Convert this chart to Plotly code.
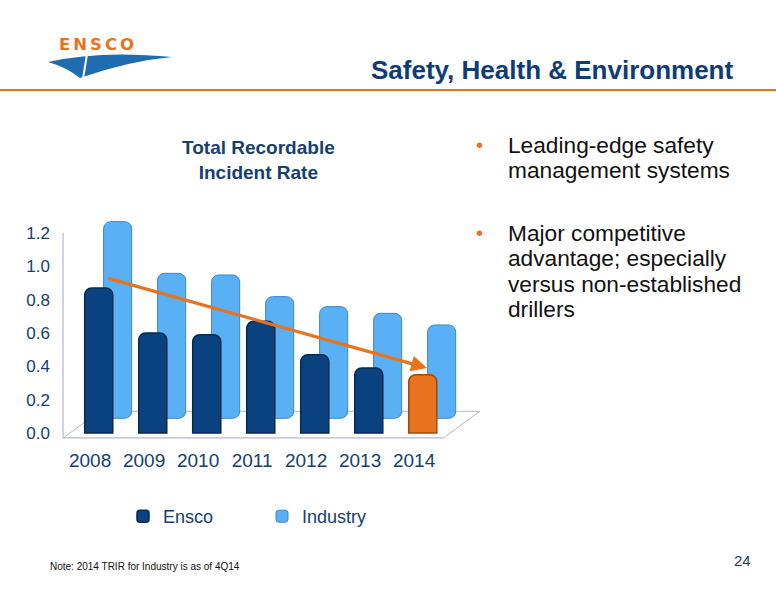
import plotly.graph_objects as go

years = ["2008", "2009", "2010", "2011", "2012", "2013", "2014"]
ensco = [0.87, 0.60, 0.59, 0.67, 0.47, 0.39, 0.35]
industry = [1.18, 0.87, 0.86, 0.73, 0.67, 0.63, 0.56]
y_ticks = [0.0, 0.2, 0.4, 0.6, 0.8, 1.0, 1.2]

W, H = 776, 600
NAVY = "#14406F"
ORANGE = "#E8731E"

def px(x, y):
    return x / W, 1 - y / H

xpos = list(range(len(years)))
ensco_colors = ["#0A427F"] * (len(years) - 1) + [ORANGE]
ensco_lines = ["#052A50"] * (len(years) - 1) + ["#9E4A0E"]

fig = go.Figure()
fig.add_trace(go.Bar(
    x=xpos, y=industry, name="Industry", base=0.088,
    offset=0.27, width=0.52,
    marker=dict(color="#5AB0F4", line=dict(color="#3A88C8", width=1), cornerradius=7),
))
fig.add_trace(go.Bar(
    x=xpos, y=ensco, name="Ensco",
    offset=-0.08, width=0.52,
    marker=dict(color=ensco_colors, line=dict(color=ensco_lines, width=1.5), cornerradius=7),
))

shapes = []
floor_col = "#B4BACB"
shapes += [
    dict(type="line", xref="x", yref="y", x0=-0.48, y0=-0.03, x1=6.56, y1=-0.03, line=dict(color=floor_col, width=1.2), layer="below"),
    dict(type="line", xref="x", yref="y", x0=0.2, y0=0.13, x1=7.24, y1=0.13, line=dict(color=floor_col, width=1), layer="below"),
    dict(type="line", xref="x", yref="y", x0=-0.48, y0=-0.03, x1=0.2, y1=0.13, line=dict(color=floor_col, width=1), layer="below"),
    dict(type="line", xref="x", yref="y", x0=6.56, y0=-0.03, x1=7.24, y1=0.13, line=dict(color=floor_col, width=1), layer="below"),
    dict(type="line", xref="x", yref="y", x0=-0.48, y0=-0.03, x1=-0.48, y1=1.2, line=dict(color=floor_col, width=1.2), layer="below"),
]
a = px(0, 90); b = px(776, 90)
shapes.append(dict(type="line", xref="paper", yref="paper", x0=a[0], y0=a[1], x1=b[0], y1=b[1], line=dict(color=ORANGE, width=2)))
# logo swoosh
pts = [(48, 62), (100, 50), (172, 57), (128, 61), (80, 78), (66, 67), (48, 62)]
c = [px(*p) for p in pts]
path = (f"M {c[0][0]},{c[0][1]} Q {c[1][0]},{c[1][1]} {c[2][0]},{c[2][1]} "
        f"Q {c[3][0]},{c[3][1]} {c[4][0]},{c[4][1]} Q {c[5][0]},{c[5][1]} {c[6][0]},{c[6][1]} Z")
shapes.append(dict(type="path", xref="paper", yref="paper", path=path, fillcolor="#1F6DB0", line=dict(width=0)))
s0 = px(87, 54); s1 = px(83, 79)
shapes.append(dict(type="line", xref="paper", yref="paper", x0=s0[0], y0=s0[1], x1=s1[0], y1=s1[1], line=dict(color="white", width=2)))

def ann(text, x, y, size, color, xanchor="left", bold=False, family="Liberation Sans, Arial, sans-serif", align="left", yanchor="middle"):
    xp, yp = px(x, y)
    return dict(text=f"<b>{text}</b>" if bold else text, x=xp, y=yp, xref="paper", yref="paper",
                showarrow=False, xanchor=xanchor, yanchor=yanchor, align=align,
                font=dict(size=size, color=color, family=family))

bullet1 = ["Leading-edge safety", "management systems"]
bullet2 = ["Major competitive", "advantage; especially", "versus non-established", "drillers"]

annotations = [
    ann("Safety, Health &amp; Environment", 735, 70, 26, "#0D3D78", xanchor="right", bold=True,
        family="Liberation Sans Narrow, Arial Narrow, Liberation Sans, sans-serif"),
    ann('<span style="letter-spacing:3px">ENSCO</span>', 57, 45, 16.5, ORANGE, xanchor="left", bold=True,
        family="DejaVu Sans, Verdana, sans-serif"),
    ann("Total Recordable<br>Incident Rate", 258, 160, 19, "#17406E", xanchor="center", bold=True, align="center"),
    ann("•", 474, 145, 20, ORANGE),
    ann("•", 474, 233, 20, ORANGE),
    ann("Note: 2014 TRIR for Industry is as of 4Q14", 48, 566, 10, "#111111"),
    ann("24", 742, 560, 15, "#14406F", xanchor="center"),
    dict(x=6.26, y=0.39, ax=0.33, ay=0.93, xref="x", yref="y", axref="x", ayref="y",
         showarrow=True, arrowhead=2, arrowsize=1, arrowwidth=3.2, arrowcolor="#E8731E", text=""),
]
for i, line in enumerate(bullet1):
    annotations.append(ann(line, 506, 145 + 25 * i, 22.7, "#111111"))
for i, line in enumerate(bullet2):
    annotations.append(ann(line, 506, 233 + 25.3 * i, 22.7, "#111111"))

fig.update_layout(
    width=W, height=H, margin=dict(l=0, r=0, t=0, b=0),
    paper_bgcolor="white", plot_bgcolor="rgba(0,0,0,0)",
    barmode="overlay",
    font=dict(family="Liberation Sans, Arial, sans-serif", color=NAVY),
    xaxis=dict(domain=[62 / W, 480 / W], range=[-0.5, 7.24], tickvals=[i + 0.02 for i in xpos], ticktext=years,
               showgrid=False, zeroline=False, showline=False, ticks="", automargin=False,
               ticklabelstandoff=6, tickfont=dict(size=19, color=NAVY)),
    yaxis=dict(domain=[(H - 441.3) / H, (H - 208) / H], range=[-0.05, 1.35], tickvals=y_ticks,
               tickformat=".1f", showgrid=False, zeroline=False, showline=False, ticks="", automargin=False,
               ticklabelstandoff=11, tickfont=dict(size=17, color=NAVY)),
    showlegend=True,
    legend=dict(orientation="h", x=123 / W, y=(H - 498) / H, xanchor="left", yanchor="top",
                traceorder="reversed", font=dict(size=18, color=NAVY),
                entrywidth=94, entrywidthmode="pixels", bgcolor="rgba(0,0,0,0)"),
    shapes=shapes,
    annotations=annotations,
)

fig.write_html("out.html", config={"displayModeBar": False},
               post_script="document.body.style.margin='0px';")
